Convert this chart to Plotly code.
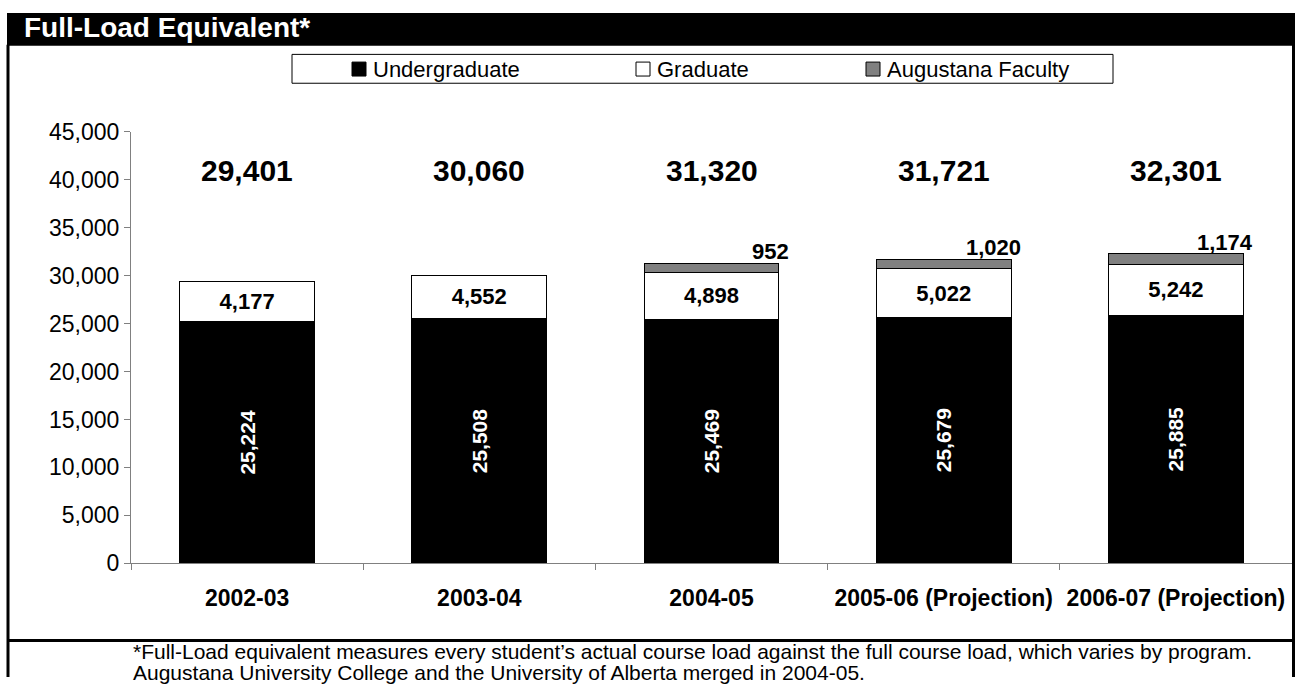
import plotly.graph_objects as go

# ---- data -------------------------------------------------------------
years = ["2002-03", "2003-04", "2004-05", "2005-06 (Projection)", "2006-07 (Projection)"]
undergraduate = [25224, 25508, 25469, 25679, 25885]
graduate = [4177, 4552, 4898, 5022, 5242]
augustana = [None, None, 952, 1020, 1174]
totals = [29401, 30060, 31320, 31721, 32301]

W, H = 1298, 690
FONT = "Liberation Sans, Arial, sans-serif"


def px(x):
    return x / W


def py(y):
    return 1 - y / H


BAR_W = 0.58
PLOT_TOP, PLOT_BOTTOM = 123.5, 571.8

fig = go.Figure()

fig.add_trace(go.Bar(
    name="Undergraduate", x=years, y=undergraduate,
    marker=dict(color="#000000", line=dict(color="#000000", width=1)),
    text=[f"{v:,}" for v in undergraduate], textposition="inside",
    insidetextanchor="middle", textangle=-90,
    textfont=dict(family=FONT, size=21, color="white", weight="bold"),
    width=BAR_W,
))
fig.add_trace(go.Bar(
    name="Graduate", x=years, y=graduate,
    marker=dict(color="#ffffff", line=dict(color="#000000", width=1)),
    text=[f"{v:,}" for v in graduate], textposition="inside",
    insidetextanchor="middle", textangle=0,
    textfont=dict(family=FONT, size=22, color="black", weight="bold"),
    width=BAR_W,
))
fig.add_trace(go.Bar(
    name="Augustana Faculty", x=years, y=augustana,
    marker=dict(color="#808080", line=dict(color="#000000", width=1)),
    width=BAR_W,
))

annotations = []

# total labels above each stack
for i, t in enumerate(totals):
    annotations.append(dict(
        x=i, y=41000, xref="x", yref="y", text=f"{t:,}", showarrow=False,
        font=dict(family=FONT, size=30, color="black", weight="bold"),
        xanchor="center", yanchor="middle",
    ))

# Augustana labels sit just above the grey segment, right-aligned
for i, a in enumerate(augustana):
    if a is None:
        continue
    top = undergraduate[i] + graduate[i] + a
    annotations.append(dict(
        x=i + BAR_W / 2, y=top, xref="x", yref="y", text=f"{a:,}",
        showarrow=False, xanchor="right", yanchor="bottom", xshift=12, yshift=-3,
        font=dict(family=FONT, size=22, color="black", weight="bold"),
    ))

# title in the black band
annotations.append(dict(
    x=px(22), y=py(15), xref="paper", yref="paper", text="Full-Load Equivalent*",
    showarrow=False, xanchor="left", yanchor="middle",
    font=dict(family=FONT, size=28, color="white", weight="bold"),
))

# footnote
foot = [
    "*Full-Load equivalent measures every student\u2019s actual course load against the full course load, which varies by program.",
    "Augustana University College and the University of Alberta merged in 2004-05.",
]
for k, line in enumerate(foot):
    annotations.append(dict(
        x=px(131), y=py(663 + 22 * k), xref="paper", yref="paper", text=line,
        showarrow=False, xanchor="left", yanchor="middle",
        font=dict(family=FONT, size=21, color="black"),
    ))

# legend: framed box with swatches
legend_items = [("Undergraduate", "#000000", 352), ("Graduate", "#ffffff", 636),
                ("Augustana Faculty", "#808080", 866)]
shapes = [
    # black title band
    dict(type="rect", xref="paper", yref="paper", x0=px(7), x1=px(1295),
         y0=py(0), y1=py(34), fillcolor="black", line=dict(width=0), layer="above"),
    # outer frame sides
    dict(type="line", xref="paper", yref="paper", x0=px(8), x1=px(8),
         y0=py(33), y1=py(690), line=dict(color="black", width=3)),
    dict(type="line", xref="paper", yref="paper", x0=px(1293.5), x1=px(1293.5),
         y0=py(33), y1=py(690), line=dict(color="black", width=3)),
    # separator above footnote
    dict(type="line", xref="paper", yref="paper", x0=px(8), x1=px(1293.5),
         y0=py(652), y1=py(652), line=dict(color="black", width=3)),
    # legend frame
    dict(type="rect", xref="paper", yref="paper", x0=px(292), x1=px(1113),
         y0=py(43), y1=py(73), line=dict(color="black", width=1), fillcolor="white"),
]
for name, color, xs in legend_items:
    shapes.append(dict(type="rect", xref="paper", yref="paper", x0=px(xs), x1=px(xs + 14),
                       y0=py(51), y1=py(65.5), fillcolor=color,
                       line=dict(color="black", width=1)))
    annotations.append(dict(
        x=px(xs + 19), y=py(58.5), xref="paper", yref="paper", text=name,
        showarrow=False, xanchor="left", yanchor="middle",
        font=dict(family=FONT, size=22, color="black"),
    ))

fig.update_layout(
    barmode="stack",
    width=W, height=H,
    margin=dict(l=0, r=0, t=0, b=0),
    paper_bgcolor="white", plot_bgcolor="white",
    showlegend=False,
    annotations=annotations,
    shapes=shapes,
    xaxis=dict(
        domain=[px(131), px(1292)],
        type="category",
        showline=True, linecolor="#808080", linewidth=1,
        ticks="outside", tickson="boundaries", ticklen=6, tickcolor="#808080",
        tickfont=dict(family=FONT, size=23, color="black", weight="bold"),
        ticklabelstandoff=14,
        showgrid=False, zeroline=False,
    ),
    yaxis=dict(
        domain=[py(PLOT_BOTTOM), py(PLOT_TOP)],
        range=[0, 45000], dtick=5000, tickformat=",d",
        showline=True, linecolor="#808080", linewidth=1,
        ticks="outside", ticklen=6, tickcolor="#808080",
        tickfont=dict(family=FONT, size=23, color="black"),
        showgrid=False, zeroline=False,
    ),
)

fig.write_html("out.html")
